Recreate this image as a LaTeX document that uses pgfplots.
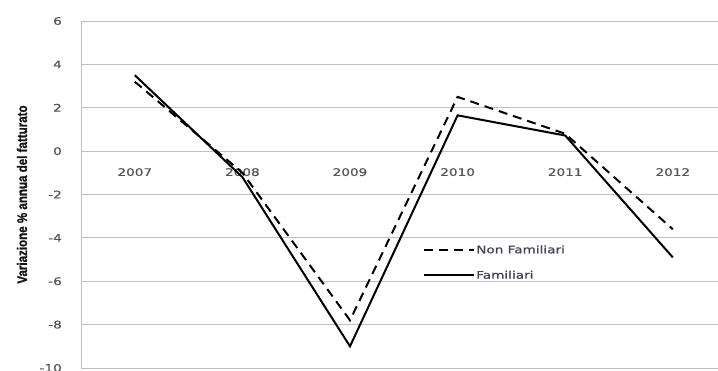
\documentclass[border=0pt]{standalone}
\usepackage{graphicx}
\usepackage{fontspec}
\setmainfont{DejaVu Sans}[FakeBold=0.6]
\newfontfamily\ylabfont{Liberation Sans}[FakeBold=1.2]
\usepackage{pgfplots}
\pgfplotsset{compat=1.18}

\definecolor{gridgray}{RGB}{192,192,192}
\definecolor{ticktext}{RGB}{85,85,85}
\definecolor{legtext}{RGB}{72,64,82}

% wide tick/legend lettering
\newcommand{\wide}[1]{\scalebox{1.3}[1]{#1}}

\begin{document}
\begin{tikzpicture}
\begin{axis}[
  name=main,
  at={(0,0)}, anchor=south west,
  scale only axis,
  width=637bp, height=347bp,
  xmin=-0.5, xmax=5.42,
  ymin=-10, ymax=6,
  axis x line=middle,
  axis y line=left,
  axis line style={gridgray, line width=0.9bp, -},
  ymajorgrids,
  grid style={gridgray, line width=0.9bp},
  major tick length=0pt,
  xtick={0,1,2,3,4,5},
  xticklabels={\wide{2007},\wide{2008},\wide{2009},\wide{2010},\wide{2011},\wide{2012}},
  ytick={-10,-8,-6,-4,-2,0,2,4,6},
  yticklabels={\wide{-10},\wide{-8},\wide{-6},\wide{-4},\wide{-2},\wide{0},\wide{2},\wide{4},\wide{6}},
  tick label style={font=\fontsize{10.5}{12}\selectfont, text=ticktext},
  xticklabel style={anchor=center, yshift=-21bp, inner sep=0pt},
  yticklabel style={anchor=east, inner sep=0pt, xshift=-19bp},
  legend style={draw=none, fill=white, inner sep=0pt, row sep=14bp,
    at={(axis description cs:0.537,0.357)}, anchor=north west,
    font=\fontsize{10.5}{12}\selectfont, text=legtext,
    nodes={inner sep=1bp}},
  legend cell align=left,
  legend image code/.code={\draw[#1] (0bp,0bp) -- (50bp,0bp);},
]
\addplot[black, line width=2bp, dash pattern=on 9bp off 6bp]
  coordinates {(0,3.2) (1,-1.0) (2,-7.8) (3,2.5) (4,0.8) (5,-3.6)};
\addlegendentry{\wide{Non Familiari}}
\addplot[black, line width=2bp]
  coordinates {(0,3.5) (1,-1.2) (2,-9.0) (3,1.65) (4,0.72) (5,-4.9)};
\addlegendentry{\wide{Familiari}}
\end{axis}
% y-axis title
\node[rotate=90, anchor=center, inner sep=0pt,
      text={rgb,255:red,20;green,20;blue,20}]
  at (-59bp,173.5bp)
  {\ylabfont\bfseries\fontsize{14}{16}\selectfont\scalebox{0.83}[1]{Variazione \% annua del fatturato}};
\pgfresetboundingbox
\path[use as bounding box] (-81bp,-3bp) rectangle (637bp,368bp);
\end{tikzpicture}
\end{document}
